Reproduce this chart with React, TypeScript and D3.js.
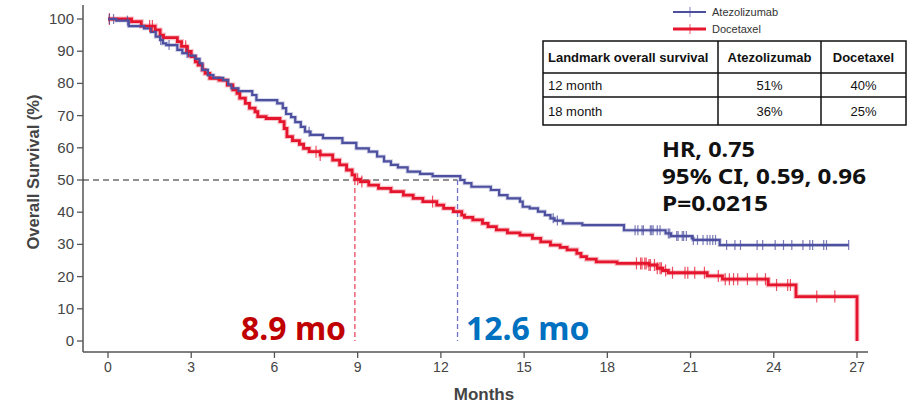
import React from "react";
import * as d3 from "d3";

// ---- Data ----
const xTicks = [0, 3, 6, 9, 12, 15, 18, 21, 24, 27];
const yTicks = [0, 10, 20, 30, 40, 50, 60, 70, 80, 90, 100];

// Atezolizumab KM steps: [month, survival %]
const atezoSteps: [number, number][] = [
  [0, 100], [0.3, 99.5], [0.75, 97.8], [1.3, 97.1], [1.55, 96], [1.72, 94.5], [1.88, 93.5], [1.98, 92.4],
  [2.1, 91.9], [2.5, 90.4], [2.68, 89.4], [2.9, 88.6], [3.15, 87.6], [3.3, 86.2], [3.4, 84.2],
  [3.6, 82.6], [3.8, 81.7], [4.15, 81], [4.33, 79.6], [4.45, 78.5], [4.7, 77.6], [5.2, 76.4],
  [5.35, 74.8], [6.1, 73.8], [6.3, 72.3], [6.42, 70.5], [6.6, 69.5], [6.75, 68], [6.95, 66.5],
  [7.1, 65], [7.3, 64], [7.75, 63], [8.45, 61.5], [8.95, 59.8], [9.4, 58.8], [9.7, 57.3],
  [9.95, 55.8], [10.2, 54.7], [10.45, 53.9], [10.8, 52.6], [11.25, 51.9], [11.7, 51.2],
  [12.7, 50], [12.85, 49], [13.1, 47.9], [13.8, 46.9], [14.1, 45.3], [14.4, 44.3], [14.85, 43.3],
  [14.95, 41.7], [15.2, 41.2], [15.5, 40.2], [15.75, 39.1], [15.95, 38.1], [16.1, 37.4],
  [16.4, 36.5], [17.1, 36], [18.6, 34.4], [20.1, 33.4], [20.3, 32.6], [21.05, 31.9], [21.1, 31.4],
  [22.05, 29.8], [26.7, 29.8],
];
// Docetaxel KM steps
const docetaxelSteps: [number, number][] = [
  [0, 100], [0.85, 99.2], [1.2, 97.8], [1.7, 96.6], [1.88, 95], [2.0, 94.2], [2.5, 93], [2.65, 91.5],
  [2.85, 89.9], [3.0, 88.3], [3.15, 86.7], [3.25, 85.7], [3.4, 84.2], [3.5, 83.1], [3.67, 81.6],
  [4.0, 81], [4.3, 79.5], [4.5, 78], [4.65, 76.9], [4.75, 75.4], [4.95, 73.8], [5.1, 72.3],
  [5.3, 71.2], [5.4, 69.7], [5.7, 69.1], [6.2, 68.1], [6.35, 66], [6.45, 63.5], [6.65, 62.2],
  [6.9, 61.1], [7.05, 59.8], [7.25, 58.8], [7.65, 57.8], [8.1, 56.2], [8.35, 54.7], [8.6, 53.1],
  [8.8, 51.6], [8.9, 50.2], [9.1, 49.5], [9.4, 48.4], [9.75, 47.4], [10.2, 46.4], [10.65, 45.3],
  [11.0, 44.3], [11.35, 43.3], [11.85, 42.2], [12.1, 41.2], [12.45, 40.2], [12.75, 39.1],
  [12.85, 38.4], [13.15, 37.6], [13.5, 36.5], [13.7, 35.5], [14.0, 34.5], [14.4, 33.6],
  [14.85, 32.9], [15.3, 31.9], [15.6, 30.8], [15.95, 29.8], [16.3, 29.1], [16.55, 28.3],
  [16.9, 27.2], [17.05, 26.2], [17.25, 25.4], [17.6, 24.6], [18.35, 24.1], [19.5, 23.6],
  [19.8, 22.6], [20.0, 21.9], [20.2, 21.2], [21.6, 20.2], [22.15, 19.2], [23.8, 17.4],
  [24.8, 13.8], [27.0, 0],
];
const atezoCensor = [
  0.05, 0.2, 0.7, 1.9, 2.2, 2.85, 7.25, 16.05, 16.2, 19.0, 19.1, 19.25, 19.3, 19.55, 19.6, 19.65,
  19.8, 19.9, 20.2, 20.25, 20.5, 20.55, 20.7, 20.75, 20.85, 21.1, 21.25, 21.45, 21.6, 21.7, 21.8,
  21.9, 22.3, 22.6, 22.8, 23.4, 23.6, 24.05, 24.35, 24.65, 25.05, 25.3, 25.4, 25.8, 25.9, 26.7,
];
const docetaxelCensor = [
  0.05, 1.5, 1.6, 2.8, 2.9, 7.5, 7.65, 9.0, 9.15, 11.7, 19.05, 19.2, 19.25, 19.35, 19.4, 19.5,
  19.55, 19.7, 19.8, 19.9, 19.95, 20.1, 20.35, 20.8, 20.9, 21.15, 21.5, 22.0, 22.25, 22.4, 22.55,
  22.7, 23.05, 23.4, 23.7, 24.1, 24.5, 24.6, 25.55, 26.2,
];
const seriesNames = ["Atezolizumab", "Docetaxel"];
const medians = [12.6, 8.9];
const medianLabels = ["12.6 mo", "8.9 mo"];
const tableHeader = ["Landmark overall survival", "Atezolizumab", "Docetaxel"];
const tableRows = [
  ["12 month", "51%", "40%"],
  ["18 month", "36%", "25%"],
];
const statsLines = ["HR, 0.75", "95% CI, 0.59, 0.96", "P=0.0215"];
const statsWidths = [93, 204, 106];

const BLUE = "#4d4f9f";
const RED = "#e5152d";

function survAt(steps: [number, number][], t: number) {
  let v = steps[0][1];
  for (const [s, val] of steps) {
    if (s <= t) v = val;
    else break;
  }
  return v;
}

export default function App() {
  const x = d3.scaleLinear().domain([0, 27]).range([108, 857]);
  const y = d3.scaleLinear().domain([0, 100]).range([341, 19]);
  const line = d3
    .line<[number, number]>()
    .x((d) => x(d[0]))
    .y((d) => y(d[1]))
    .curve(d3.curveStepAfter);

  const axisColor = "#555";
  const axisY = 352;
  const axisX = 83;

  const censor = (steps: [number, number][], times: number[], color: string, h: number, w: number) =>
    times.map((t, i) => {
      const v = survAt(steps, t);
      return (
        <line key={i} x1={x(t)} x2={x(t)} y1={y(v) - h} y2={y(v) + h} stroke={color} strokeWidth={w} strokeOpacity={0.75} />
      );
    });

  const tblCols = [543, 718, 821, 906];
  const tblRowsY = [41, 73, 97, 125];

  return (
    <svg
      width={912}
      height={403}
      style={{ position: "absolute", left: 0, top: 0, background: "#fff" }}
      fontFamily="'Liberation Sans', Arial, sans-serif"
    >
      <rect width={912} height={403} fill="#fff" />
      {/* Axes */}
      <line x1={axisX} x2={axisX} y1={5} y2={axisY} stroke={axisColor} strokeWidth={1.5} />
      <line x1={axisX} x2={868} y1={axisY} y2={axisY} stroke={axisColor} strokeWidth={1.5} />
      {yTicks.map((t) => (
        <g key={t}>
          <line x1={axisX - 6} x2={axisX} y1={y(t)} y2={y(t)} stroke={axisColor} strokeWidth={1.3} />
          <text x={74} y={y(t) + 5} textAnchor="end" fontSize={15} fill="#444">
            {t}
          </text>
        </g>
      ))}
      {xTicks.map((t) => (
        <g key={t}>
          <line x1={x(t)} x2={x(t)} y1={axisY} y2={axisY + 6} stroke={axisColor} strokeWidth={1.3} />
          <text
            x={x(t)}
            y={372}
            textAnchor="middle"
            fontSize={14}
            fill="#444"
            fontFamily="'Liberation Sans Narrow', 'Liberation Sans', Arial, sans-serif"
          >
            {t}
          </text>
        </g>
      ))}
      <text
        transform={`translate(39,172) rotate(-90)`}
        textAnchor="middle"
        fontSize={16.5}
        fontWeight="bold"
        fill="#444"
      >
        Overall Survival (%)
      </text>
      <text x={484} y={400} textAnchor="middle" fontSize={17} fontWeight="bold" fill="#444"
        fontFamily="'Liberation Sans Narrow', 'Liberation Sans', Arial, sans-serif">
        Months
      </text>

      {/* Median reference lines */}
      <line x1={axisX} x2={x(medians[0])} y1={y(50)} y2={y(50)} stroke="#222" strokeWidth={1} strokeDasharray="6,4" />
      <line x1={x(medians[1])} x2={x(medians[1])} y1={y(50)} y2={y(0)} stroke={RED} strokeWidth={1} strokeDasharray="5,3" />
      <line x1={x(medians[0])} x2={x(medians[0])} y1={y(50)} y2={y(0)} stroke="#6f73c8" strokeWidth={1.3} strokeDasharray="5,3" />

      {/* Curves */}
      <path d={line(docetaxelSteps) || ""} fill="none" stroke={RED} strokeOpacity={0.25} strokeWidth={5} />
      <path d={line(atezoSteps) || ""} fill="none" stroke={BLUE} strokeOpacity={0.25} strokeWidth={4} />
      <path d={line(docetaxelSteps) || ""} fill="none" stroke={RED} strokeWidth={2.8} />
      <path d={line(atezoSteps) || ""} fill="none" stroke={BLUE} strokeWidth={2.2} />
      {censor(docetaxelSteps, docetaxelCensor, RED, 6, 1.2)}
      {censor(atezoSteps, atezoCensor, BLUE, 5, 1.2)}

      {/* Median labels */}
      <text x={241} y={340} fontSize={32} fontWeight="bold" fill="#c00000" fontFamily="'Noto Sans', 'Open Sans', sans-serif">
        {medianLabels[1]}
      </text>
      <text x={466} y={340} fontSize={32} fontWeight="bold" fill="#0070c0" fontFamily="'Noto Sans', 'Open Sans', sans-serif">
        {medianLabels[0]}
      </text>

      {/* Legend */}
      <line x1={673} x2={706} y1={12} y2={12} stroke={BLUE} strokeWidth={2} />
      <line x1={690} x2={690} y1={7} y2={17} stroke={BLUE} strokeWidth={1} strokeOpacity={0.7} />
      <text x={712} y={16} fontSize={11} fill="#333">
        {seriesNames[0]}
      </text>
      <line x1={673} x2={706} y1={29} y2={29} stroke={RED} strokeWidth={3} />
      <line x1={690} x2={690} y1={24} y2={34} stroke={RED} strokeWidth={1} strokeOpacity={0.7} />
      <text x={712} y={33} fontSize={11} fill="#333">
        {seriesNames[1]}
      </text>

      {/* Table */}
      <rect x={tblCols[0]} y={tblRowsY[0]} width={tblCols[3] - tblCols[0]} height={tblRowsY[3] - tblRowsY[0]} fill="#fff" stroke="#111" strokeWidth={1.5} />
      {tblRowsY.slice(1, 3).map((ry) => (
        <line key={ry} x1={tblCols[0]} x2={tblCols[3]} y1={ry} y2={ry} stroke="#111" strokeWidth={1.5} />
      ))}
      {tblCols.slice(1, 3).map((cx) => (
        <line key={cx} x1={cx} x2={cx} y1={tblRowsY[0]} y2={tblRowsY[3]} stroke="#111" strokeWidth={1.5} />
      ))}
      <text x={548} y={62} fontSize={13} fontWeight="bold" fill="#111">{tableHeader[0]}</text>
      <text x={(tblCols[1] + tblCols[2]) / 2} y={62} fontSize={13} fontWeight="bold" fill="#111" textAnchor="middle">{tableHeader[1]}</text>
      <text x={(tblCols[2] + tblCols[3]) / 2} y={62} fontSize={13} fontWeight="bold" fill="#111" textAnchor="middle">{tableHeader[2]}</text>
      {tableRows.map((r, i) => {
        const yy = (tblRowsY[i + 1] + tblRowsY[i + 2]) / 2 + 5;
        return (
          <g key={i}>
            <text x={548} y={yy} fontSize={13} fill="#111">{r[0]}</text>
            <text x={(tblCols[1] + tblCols[2]) / 2} y={yy} fontSize={13} fill="#111" textAnchor="middle">{r[1]}</text>
            <text x={(tblCols[2] + tblCols[3]) / 2} y={yy} fontSize={13} fill="#111" textAnchor="middle">{r[2]}</text>
          </g>
        );
      })}

      {/* Stats */}
      {statsLines.map((s, i) => (
        <text key={i} x={662} y={157 + i * 27} fontSize={21} fontWeight="bold" fill="#111"
          fontFamily="'Noto Sans', 'Open Sans', sans-serif"
          textLength={statsWidths[i]} lengthAdjust="spacingAndGlyphs">
          {s}
        </text>
      ))}
    </svg>
  );
}
